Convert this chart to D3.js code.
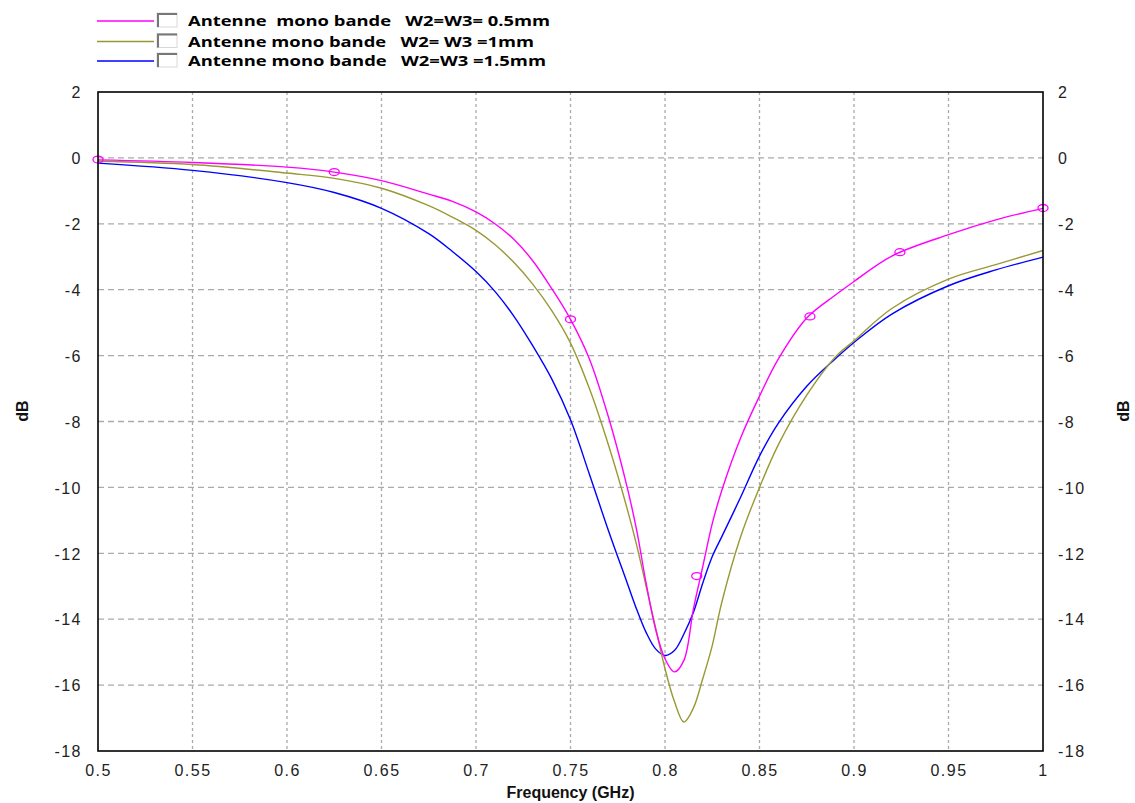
<!DOCTYPE html>
<html>
<head>
<meta charset="utf-8">
<script src="https://cdn.jsdelivr.net/npm/d3@7/dist/d3.min.js"></script>
<style>
  html, body { margin: 0; padding: 0; background: #fff; }
  svg { display: block; }
  .tick-label { font-family: "Liberation Sans", Arial, sans-serif; font-size: 16px; fill: #222; letter-spacing: 1.5px; }
  .axis-title { font-family: "Liberation Sans", Arial, sans-serif; font-size: 16px; font-weight: bold; fill: #111; }
  .legend-text { font-family: "Open Sans", "Liberation Sans", sans-serif; font-size: 15px; font-weight: bold; fill: #000; }
</style>
</head>
<body>
<svg id="chart" width="1135" height="803"></svg>
<script>
// ---------- data ----------
const freqGHz = [0.5, 0.55, 0.6, 0.625, 0.65, 0.675, 0.6875, 0.7, 0.71, 0.72, 0.73, 0.74, 0.75, 0.76, 0.77, 0.78, 0.785, 0.79, 0.795, 0.8, 0.805, 0.81, 0.815, 0.82, 0.825, 0.83, 0.84, 0.85, 0.86, 0.875, 0.89, 0.9, 0.92, 0.95, 0.975, 1.0];

const s11_05mm = [-0.06, -0.14, -0.28, -0.43, -0.69, -1.1, -1.32, -1.64, -2.0, -2.47, -3.12, -3.96, -4.9, -6.1, -7.85, -10.0, -11.3, -12.9, -14.3, -15.2, -15.6, -15.25, -13.7, -12.4, -11.1, -10.1, -8.5, -7.23, -6.1, -4.86, -4.17, -3.75, -2.98, -2.33, -1.88, -1.53];

const s11_1mm = [-0.1, -0.2, -0.46, -0.62, -0.92, -1.45, -1.8, -2.2, -2.63, -3.17, -3.83, -4.63, -5.62, -7.0, -8.7, -10.65, -11.75, -13.0, -14.25, -15.5, -16.5, -17.12, -16.7, -15.8, -14.8, -13.5, -11.5, -10.0, -8.7, -7.2, -6.05, -5.55, -4.57, -3.68, -3.24, -2.81];

const s11_15mm = [-0.16, -0.38, -0.75, -1.05, -1.53, -2.3, -2.84, -3.45, -4.05, -4.8, -5.7, -6.7, -7.95, -9.6, -11.3, -12.9, -13.7, -14.4, -14.9, -15.1, -14.95, -14.45, -13.8, -12.9, -12.1, -11.5, -10.3, -9.05, -8.05, -6.93, -6.1, -5.6, -4.74, -3.88, -3.4, -3.01];

const markerFreq = [0.5, 0.625, 0.75, 0.8168, 0.8767, 0.9243, 1.0];
const markerDb = [-0.05, -0.43, -4.9, -12.69, -4.81, -2.86, -1.52];

const seriesNames = ["Antenne  mono bande   W2=W3= 0.5mm", "Antenne mono bande   W2= W3 =1mm", "Antenne mono bande   W2=W3 =1.5mm"];
const seriesColors = ["#ff00ff", "#999933", "#0000ff"];

const xTicks = [0.5, 0.55, 0.6, 0.65, 0.7, 0.75, 0.8, 0.85, 0.9, 0.95, 1.0];
const yTicks = [2, 0, -2, -4, -6, -8, -10, -12, -14, -16, -18];

// ---------- layout ----------
const svg = d3.select("#chart");
const L = 98, R = 1043, T = 92, B = 751;

const x = d3.scaleLinear().domain([0.5, 1.0]).range([L, R]);
const y = d3.scaleLinear().domain([-18, 2]).range([B, T]);

// grid
const grid = svg.append("g");
grid.selectAll("line.h").data(yTicks.filter(v => v !== 2 && v !== -18)).enter().append("line")
  .attr("x1", L).attr("x2", R).attr("y1", d => y(d)).attr("y2", d => y(d))
  .attr("stroke", "#aaaaaa").attr("stroke-width", 1.3).attr("stroke-dasharray", "6,4");
grid.selectAll("line.v").data(xTicks.filter(v => v !== 0.5 && v !== 1.0)).enter().append("line")
  .attr("x1", d => x(d)).attr("x2", d => x(d)).attr("y1", T).attr("y2", B)
  .attr("stroke", "#aaaaaa").attr("stroke-width", 1.3).attr("stroke-dasharray", "3,3");

// axes (labels via d3 axis)
const fmtX = d => String(+d.toFixed(2));
const fmtY = d => String(d); // plain hyphen-minus like the reference
const axB = svg.append("g").attr("transform", `translate(0,${B})`)
  .call(d3.axisBottom(x).tickValues(xTicks).tickFormat(fmtX).tickSize(0).tickPadding(14));
const axL = svg.append("g").attr("transform", `translate(${L},0)`)
  .call(d3.axisLeft(y).tickValues(yTicks).tickFormat(fmtY).tickSize(0).tickPadding(16));
const axR = svg.append("g").attr("transform", `translate(${R},0)`)
  .call(d3.axisRight(y).tickValues(yTicks).tickFormat(fmtY).tickSize(0).tickPadding(15));
[axB, axL, axR].forEach(a => {
  a.select(".domain").remove();
  a.selectAll("text").attr("class", "tick-label").attr("font-size", null).attr("font-family", null).attr("fill", null);
});
axL.selectAll("text").attr("dy", "0.36em");
axR.selectAll("text").attr("dy", "0.36em");
axB.selectAll("text").attr("dy", "0.71em");

// curves
const series = [s11_05mm, s11_1mm, s11_15mm];
const line = d3.line().x(d => x(d[0])).y(d => y(d[1])).curve(d3.curveCatmullRom.alpha(0.5));
const plot = svg.append("g");
[2, 1, 0].forEach(i => {
  plot.append("path")
    .datum(freqGHz.map((f, k) => [f, series[i][k]]))
    .attr("d", line)
    .attr("fill", "none")
    .attr("stroke", seriesColors[i])
    .attr("stroke-width", 1.4);
});

// markers on 0.5mm curve
plot.selectAll("ellipse.mk").data(markerFreq.map((f, k) => [f, markerDb[k]])).enter().append("ellipse")
  .attr("cx", d => x(d[0])).attr("cy", d => y(d[1]))
  .attr("rx", 5).attr("ry", 3.5)
  .attr("fill", "none").attr("stroke", "#ff00ff").attr("stroke-width", 1.3);

// frame
svg.append("rect").attr("x", L).attr("y", T).attr("width", R - L).attr("height", B - T)
  .attr("fill", "none").attr("stroke", "#000").attr("stroke-width", 1.6);

// axis titles
svg.append("text").attr("class", "axis-title").attr("x", (L + R) / 2).attr("y", 798)
  .attr("text-anchor", "middle").text("Frequency (GHz)");
svg.append("text").attr("class", "axis-title").attr("transform", "translate(28,411) rotate(-90)")
  .attr("text-anchor", "middle").text("dB");
svg.append("text").attr("class", "axis-title").attr("transform", "translate(1129,411) rotate(-90)")
  .attr("text-anchor", "middle").text("dB");

// legend
const legY = [21, 41.5, 61];
const legTextW = [362, 346, 358];
const leg = svg.append("g");
seriesNames.forEach((name, i) => {
  const yy = legY[i];
  leg.append("line").attr("x1", 97).attr("x2", 154).attr("y1", yy).attr("y2", yy)
    .attr("stroke", seriesColors[i]).attr("stroke-width", 1.4);
  leg.append("rect").attr("x", 157).attr("y", yy - 8).attr("width", 20).attr("height", 14)
    .attr("fill", "#fff").attr("stroke", "#d8d8d8").attr("stroke-width", 1);
  leg.append("path").attr("d", `M158,${yy + 6} V${yy - 7} H177`)
    .attr("fill", "none").attr("stroke", "#777").attr("stroke-width", 2);
  leg.append("text").attr("class", "legend-text")
    .attr("x", 188).attr("y", yy + 5)
    .attr("textLength", legTextW[i]).attr("lengthAdjust", "spacingAndGlyphs")
    .style("white-space", "pre")
    .text(name);
});
</script>
</body>
</html>
